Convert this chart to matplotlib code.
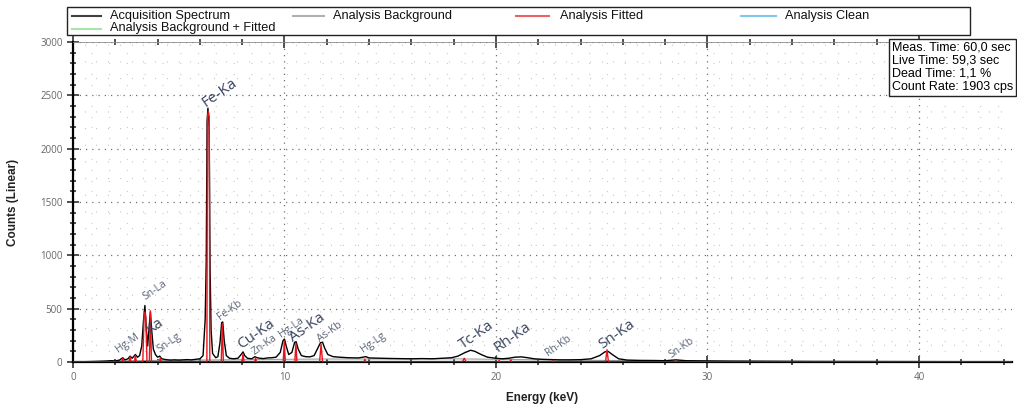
import matplotlib
matplotlib.use("Agg")
import matplotlib.pyplot as plt
from matplotlib.lines import Line2D
from matplotlib.patches import Rectangle
from matplotlib.ticker import MultipleLocator

# measured spectrum (keV, counts)
energy = [0.0, 0.5, 1.0, 1.5, 1.8, 2.0, 2.2, 2.35, 2.45, 2.6, 2.7, 2.8, 2.95, 3.05, 3.15,
          3.25, 3.33, 3.40, 3.47, 3.53, 3.60, 3.66, 3.72, 3.80, 3.9, 4.0, 4.1, 4.2, 4.4,
          4.6, 4.8, 5.0, 5.2, 5.4, 5.6, 5.8, 6.0, 6.15, 6.25, 6.30, 6.34, 6.38, 6.44, 6.48,
          6.53, 6.6, 6.75, 6.85, 6.95, 7.03, 7.08, 7.15, 7.25, 7.4, 7.6, 7.8, 7.95, 8.04,
          8.12, 8.25, 8.45, 8.6, 8.7, 8.85, 9.0, 9.2, 9.4, 9.6, 9.8, 9.93, 10.0, 10.08,
          10.2, 10.35, 10.48, 10.55, 10.65, 10.8, 11.0, 11.2, 11.4, 11.55, 11.7, 11.8,
          11.9, 12.05, 12.3, 12.6, 13.0, 13.5, 13.85, 14.0, 14.5, 15.0, 15.5, 16.0, 16.5,
          17.0, 17.5, 17.9, 18.2, 18.5, 18.8, 19.0, 19.3, 19.6, 20.0, 20.3, 20.6, 20.9,
          21.2, 21.5, 21.8, 22.2, 22.6, 23.0, 23.5, 24.0, 24.5, 24.9, 25.15, 25.3, 25.5,
          25.8, 26.2, 26.8, 27.5, 28.0, 28.5, 29.0, 30.0, 31.0, 33.0, 35.0, 38.0, 41.0, 44.4]
counts = [0, 2, 5, 8, 12, 10, 18, 40, 20, 30, 55, 35, 70, 45, 60,
          150, 380, 530, 300, 150, 330, 470, 300, 120, 70, 45, 55, 30, 22,
          18, 20, 18, 20, 22, 20, 25, 30, 60, 400, 950, 2250, 2380, 2200, 900,
          300, 80, 40, 50, 180, 370, 375, 200, 60, 35, 30, 35, 70, 95,
          60, 35, 30, 50, 40, 35, 32, 38, 40, 45, 90, 200, 215, 150,
          70, 90, 185, 190, 120, 60, 50, 48, 60, 120, 180, 185,
          130, 70, 50, 45, 40, 38, 50, 38, 35, 33, 32, 30, 32,
          30, 35, 40, 55, 85, 110, 100, 70, 45, 35, 30, 35, 45,
          48, 40, 30, 25, 22, 20, 20, 22, 30, 60, 95, 100, 70,
          30, 18, 15, 14, 12, 20, 12, 10, 8, 6, 5, 4, 3, 2]

# fitted peaks (keV, counts)
fit_energy = [0.0, 2.30, 2.35, 2.40, 2.65, 2.70, 2.75, 2.90, 2.95, 3.00, 3.30, 3.36, 3.40,
              3.44, 3.50, 3.61, 3.66, 3.71, 4.08, 4.13, 4.18, 6.33, 6.36, 6.40, 6.44,
              6.47, 7.01, 7.06, 7.11, 7.99, 8.04, 8.09, 8.58, 8.63, 8.68, 9.94, 9.99,
              10.04, 10.49, 10.54, 10.59, 11.66, 11.73, 11.80, 13.75, 13.80, 13.85, 18.40,
              18.50, 18.60, 20.10, 20.15, 20.20, 20.65, 20.70, 20.75, 22.65, 22.70, 22.75,
              25.18, 25.25, 25.32, 28.45, 28.50, 28.55, 44.4]
fit_counts = [0, 0, 35, 0, 0, 50, 0, 0, 60, 0, 0, 420, 470,
              420, 0, 0, 480, 0, 0, 40, 0, 0, 2300, 2350, 2300,
              0, 0, 360, 0, 0, 75, 0, 0, 35, 0, 0, 195,
              0, 0, 175, 0, 0, 165, 0, 0, 25, 0, 0,
              35, 0, 0, 15, 0, 0, 20, 0, 0, 15, 0,
              0, 115, 0, 0, 12, 0, 0]

# analysis background (keV, counts)
bg_energy = [0, 2, 4, 6, 8, 10, 12, 15, 18, 20, 25, 30, 35, 44.4]
bg_counts = [0, 8, 15, 18, 22, 25, 28, 28, 30, 25, 15, 8, 4, 2]

peak_names = ["Hg-M", "Sn-La", "Ka", "Sn-Lg", "Fe-Ka", "Fe-Kb", "Cu-Ka", "Zn-Ka", "Hg-La",
              "As-Ka", "As-Kb", "Hg-Lg", "Tc-Ka", "Rh-Ka", "Rh-Kb", "Sn-Ka", "Sn-Kb"]
peak_label_e = [2.22, 3.50, 3.73, 4.16, 6.38, 7.05, 8.04, 8.65, 9.93,
                10.5, 11.77, 13.8, 18.53, 20.2, 22.55, 25.15, 28.37]
peak_label_c = [66, 560, 234, 66, 2362, 375, 94, 47, 206,
                160, 160, 66, 94, 66, 37, 94, 19]
peak_major = [False, False, True, False, True, False, True, False, False,
              True, False, False, True, True, False, True, False]

legend_labels = ["Acquisition Spectrum", "Analysis Background", "Analysis Fitted",
                 "Analysis Clean", "Analysis Background + Fitted"]
legend_colors = ["#404040", "#b0b0b0", "#f06060", "#80c8f0", "#a8e6a8"]

info_lines = ["Meas. Time: 60,0 sec", "Live Time: 59,3 sec", "Dead Time: 1,1 %",
              "Count Rate: 1903 cps"]

W, H = 1017, 405
fig = plt.figure(figsize=(W / 100, H / 100), dpi=100)
ax = fig.add_axes([73 / W, 1 - 362 / H, (1012 - 73) / W, 320 / H])

ax.plot(bg_energy, bg_counts, color="#a0a0a0", lw=0.8, zorder=2)
ax.plot(energy, counts, color="black", lw=1.0, zorder=3)
ax.plot(fit_energy, fit_counts, color="#e8141c", lw=1.0, zorder=4)

ax.set_xlim(0, 44.4)
ax.set_ylim(0, 3000)

ax.xaxis.set_major_locator(MultipleLocator(10))
ax.xaxis.set_minor_locator(MultipleLocator(2))
ax.yaxis.set_major_locator(MultipleLocator(500))
ax.yaxis.set_minor_locator(MultipleLocator(100))

# dotted grid: major lines and a light dot lattice
ax.grid(which="major", color="#707070", linestyle=(0, (1, 4)), lw=0.9)
for xv in [i * 10 / 18 for i in range(1, 80)]:
    if xv < 44.4 and abs(xv / 10 - round(xv / 10)) > 1e-6:
        ax.axvline(xv, color="#c4c4c4", linestyle=(0, (1, 14)), lw=0.8, zorder=0)
for yv in range(100, 3000, 100):
    if yv % 500:
        ax.axhline(yv, color="#cccccc", linestyle=(0, (1, 15)), lw=0.8, zorder=0)

ax.spines["right"].set_visible(False)
ax.spines["top"].set_color("#909090")
ax.spines["top"].set_linewidth(0.6)
ax.spines["left"].set_linewidth(1.6)
ax.spines["bottom"].set_linewidth(1.6)
ax.tick_params(which="both", direction="inout", width=1.2, colors="#333333",
               labelcolor="#666666", labelsize=7, top=True)
ax.tick_params(which="major", length=8)
ax.tick_params(which="minor", length=5)
for lbl in ax.get_xticklabels() + ax.get_yticklabels():
    lbl.set_fontfamily("Open Sans")

ax.set_xlabel("Energy (keV)", fontsize=8.5, fontweight="bold", color="#222222",
              family="Liberation Sans", labelpad=6)
ax.set_ylabel("Counts (Linear)", fontsize=8.5, fontweight="bold", color="#222222",
              family="Liberation Sans", labelpad=15)

for name, e, c, big in zip(peak_names, peak_label_e, peak_label_c, peak_major):
    ax.text(e, c, name, rotation=35, rotation_mode="anchor", ha="left", va="bottom",
            fontsize=11 if big else 7.5, color="#3a4460" if big else "#5a6478",
            family="Open Sans", zorder=5)

# legend box drawn by hand so the columns sit where the reference puts them
fig.patches.append(Rectangle((67 / W, 1 - 35 / H), 903 / W, 28 / H,
                             transform=fig.transFigure, fc="white", ec="#222222", lw=1.0))
handle_x = [(72, 101), (293, 324), (516, 549), (741, 776), (72, 101)]
text_x = [110, 333, 560, 785, 110]
row_y = [15.5, 15.5, 15.5, 15.5, 28.5]
for lab, col, (hx0, hx1), tx, ry in zip(legend_labels, legend_colors, handle_x, text_x, row_y):
    fig.lines.append(Line2D([hx0 / W, hx1 / W], [1 - ry / H, 1 - ry / H],
                            transform=fig.transFigure, color=col, lw=1.5))
    fig.text(tx / W, 1 - ry / H, lab, ha="left", va="center", fontsize=9.2,
             family="Liberation Sans", color="#111111")

fig.text(892 / W, 1 - 42 / H, "\n".join(info_lines), ha="left", va="top",
         fontsize=9, family="Liberation Sans", linespacing=1.1,
         bbox=dict(boxstyle="square,pad=0.25", fc="white", ec="#222222", lw=1.0))

fig.savefig("out.png", dpi=100)
